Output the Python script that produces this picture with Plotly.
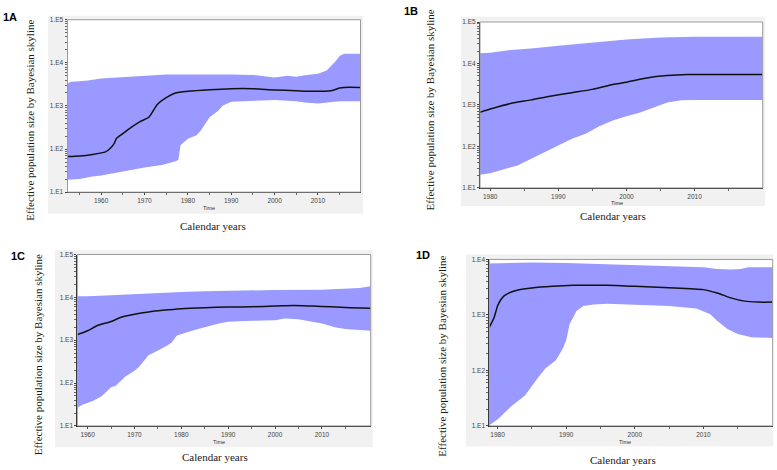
import plotly.graph_objects as go

# ---------------- data ----------------
# Panel 1A
a_med_years = [1952.25, 1955, 1958, 1961, 1962, 1963, 1963.5, 1965, 1967, 1969, 1971, 1973, 1975, 1977, 1980, 1985, 1990, 1995, 2000, 2005, 2008, 2013, 2015, 2016, 2019.8]
a_med = [67, 69, 75, 86, 102, 134, 174, 227, 323, 435, 546, 1096, 1563, 1963, 2183, 2382, 2512, 2512, 2344, 2259, 2183, 2259, 2600, 2692, 2692]
a_up_years = [1952.25, 1953, 1955, 1957, 1960, 1965, 1970, 1975, 1980, 1985, 1990, 1995, 2000, 2003, 2005, 2007, 2010, 2012, 2013, 2014, 2015, 2016, 2019.8]
a_up = [3266, 3631, 3758, 3890, 4325, 4645, 5070, 5346, 5346, 5433, 5346, 5248, 4571, 5012, 4786, 5129, 5623, 6607, 8279, 10715, 14454, 16218, 16218]
a_lo_years = [1952.25, 1955, 1958, 1960, 1962, 1965, 1970, 1974, 1977, 1977.8, 1978.3, 1980, 1982, 1983, 1985, 1987, 1988, 1990, 1992, 2000, 2005, 2007, 2010, 2012, 2015, 2019.8]
a_lo = [19.5, 20.2, 23.2, 24.5, 26.3, 30.2, 37.2, 42.9, 51.2, 56, 123, 174, 208, 269, 546, 776, 1009, 1259, 1312, 1380, 1288, 1202, 1140, 1202, 1288, 1288]
a_xticks = [1960, 1970, 1980, 1990, 2000, 2010]

# Panel 1B
b_med_years = [1978.5, 1980, 1983, 1986, 1989, 1992, 1995, 1998, 2000, 2003, 2006, 2009, 2020]
b_med = [664, 796, 1086, 1327, 1652, 1982, 2377, 3126, 3548, 4498, 5117, 5408, 5408]
b_up_years = [1978.5, 1980, 1983, 1986, 1990, 1995, 2000, 2005, 2010, 2020]
b_up = [17700, 18200, 21230, 22900, 26900, 32280, 38020, 42460, 44060, 44060]
b_lo_years = [1978.5, 1980, 1982, 1984, 1986, 1988, 1990, 1992, 1994, 1996, 1998, 2000, 2002, 2004, 2006, 2008, 2010, 2020]
b_lo = [20.7, 22.7, 28.2, 34.7, 51.6, 71.6, 107, 154, 203, 309, 421, 533, 661, 871, 1148, 1303, 1327, 1327]
b_xticks = [1980, 1990, 2000, 2010]

# Panel 1C
c_med_years = [1957.8, 1960, 1962, 1965, 1967, 1970, 1973, 1976, 1980, 1985, 1990, 1995, 2000, 2004, 2008, 2012, 2016, 2020.4]
c_med = [1349, 1667, 2173, 2735, 3381, 4027, 4560, 4977, 5445, 5741, 5943, 6053, 6266, 6486, 6266, 6053, 5741, 5534]
c_up_years = [1957.8, 1960, 1965, 1970, 1975, 1980, 1985, 1990, 2000, 2010, 2015, 2018, 2020.4]
c_up = [10640, 10640, 11220, 12020, 12910, 13370, 13870, 14350, 14860, 15140, 15960, 16520, 18070]
c_lo_years = [1957.8, 1959, 1961, 1963, 1965, 1966, 1968, 1970, 1971, 1973, 1975, 1977, 1978, 1979, 1980, 1983, 1986, 1988, 1990, 1995, 2000, 2002, 2005, 2008, 2010, 2013, 2015, 2020.4]
c_lo = [26.4, 31.5, 37.6, 49, 80, 86, 141, 194, 239, 444, 578, 753, 899, 1279, 1400, 1758, 2173, 2460, 2685, 2831, 2931, 3206, 3090, 2735, 2460, 1991, 1824, 1667]
c_xticks = [1960, 1970, 1980, 1990, 2000, 2010]

# Panel 1D
d_med_years = [1978.8, 1979.5, 1980, 1980.5, 1981, 1982, 1983, 1985, 1988, 1991, 1996, 2000, 2005, 2010, 2012, 2014, 2016, 2018, 2020.1]
d_med = [596, 897, 1445, 1897, 2234, 2594, 2818, 3055, 3273, 3412, 3412, 3273, 3097, 2858, 2489, 2032, 1774, 1702, 1702]
d_up_years = [1978.8, 1985, 1990, 1997, 2005, 2010, 2012, 2014, 2015.5, 2016.5, 2020.1]
d_up = [8492, 8851, 8610, 8147, 7621, 7211, 6730, 6561, 6730, 7211, 7211]
d_lo_years = [1978.8, 1980, 1982, 1984, 1985, 1986, 1987, 1988.5, 1989.5, 1990, 1990.5, 1991.5, 1992.5, 1994, 1996, 2000, 2005, 2009, 2011, 2012, 2013.5, 2015, 2017, 2020.1]
d_lo = [10.3, 13.1, 22.6, 35.5, 51.3, 77.3, 109, 152, 245, 345, 682, 1178, 1445, 1545, 1589, 1545, 1445, 1312, 1028, 782, 557, 454, 396, 385]
d_xticks = [1980, 1990, 2000, 2010]

y_tickvals = [10, 100, 1000, 10000, 100000]
y_ticktext = ["1.E1", "1.E2", "1.E3", "1.E4", "1.E5"]
panel_labels = ["1A", "1B", "1C", "1D"]
x_title = "Calendar years"
y_title = "Effective population size by Bayesian skyline"
time_label = "Time"

# ---------------- layout geometry (pixels in a 777x470 canvas) ----------------
W, H = 777, 470
def px(x):
    return x / W
def py(y):
    return 1 - y / H

panels = [
    dict(med=(a_med_years, a_med), up=(a_up_years, a_up), lo=(a_lo_years, a_lo), xt_vals=a_xticks,
         plot=(67.5, 16, 360.5, 191), box=(48, 12, 363, 213), xr=[1952.25, 2019.8], yr=[1, 5],
         lab=(10, 13.5), xt=(213, 225), yt=(30, 118.5), tm=(209, 207)),
    dict(med=(b_med_years, b_med), up=(b_up_years, b_up), lo=(b_lo_years, b_lo), xt_vals=b_xticks,
         plot=(480, 18.3, 762.7, 186.7), box=(461, 13, 765, 205), xr=[1978.5, 2020], yr=[1, 5],
         lab=(411, 7), xt=(612.7, 215), yt=(430, 108), tm=(616.7, 202)),
    dict(med=(c_med_years, c_med), up=(c_up_years, c_up), lo=(c_lo_years, c_lo), xt_vals=c_xticks,
         plot=(77.3, 254.3, 370.7, 428.3), box=(55, 250, 372.7, 450), xr=[1957.8, 2020.4], yr=[1, 5],
         lab=(18, 255.5), xt=(215, 460), yt=(38, 356.5), tm=(219, 445)),
    dict(med=(d_med_years, d_med), up=(d_up_years, d_up), lo=(d_lo_years, d_lo), xt_vals=d_xticks,
         plot=(489.3, 259.3, 772.7, 428.3), box=(466, 254.3, 773.3, 449.3), xr=[1978.8, 2020.1], yr=[1, 4],
         lab=(423, 254.5), xt=(623, 463), yt=(442, 358), tm=(625, 445)),
]

FILL = "rgb(153,153,255)"
fig = go.Figure()
shapes = []
annotations = []
minor_y = []
for e in range(1, 5):
    for m in range(2, 10):
        minor_y.append(m * 10 ** e)

for i, p in enumerate(panels):
    k = "" if i == 0 else str(i + 1)
    xa, ya = "x" + k, "y" + k
    ux, uy = p["up"]
    lx, ly = p["lo"]
    fig.add_trace(go.Scatter(x=list(ux) + list(lx)[::-1], y=list(uy) + list(ly)[::-1],
                             fill="toself", fillcolor=FILL, line=dict(width=0),
                             mode="lines", hoverinfo="skip", showlegend=False,
                             xaxis=xa, yaxis=ya))
    mx, my = p["med"]
    fig.add_trace(go.Scatter(x=mx, y=my, mode="lines",
                             line=dict(color="#111111", width=1.5, shape="spline", smoothing=0.6),
                             showlegend=False, xaxis=xa, yaxis=ya))
    x0, y0, x1, y1 = p["plot"]
    common_tick = dict(tickfont=dict(size=6.5, color="#444444", family="Liberation Sans"),
                       showgrid=False, zeroline=False, showline=True, linecolor="#222222",
                       linewidth=1, ticks="outside", ticklen=2, tickcolor="#444444", tickwidth=1)
    minor_x = [v + 5 for v in p["xt_vals"]] + [p["xt_vals"][0] - 5]
    fig.update_layout(**{
        ("xaxis" + k): dict(domain=[px(x0), px(x1)], anchor=ya, range=p["xr"],
                            tickmode="array", tickvals=p["xt_vals"],
                            ticktext=[str(v) for v in p["xt_vals"]],
                            minor=dict(ticks="outside", ticklen=2, tickmode="array", tickvals=minor_x,
                                       tickcolor="#666666"),
                            **common_tick),
        ("yaxis" + k): dict(domain=[py(y1), py(y0)], anchor=xa, type="log", range=p["yr"],
                            tickmode="array", tickvals=y_tickvals, ticktext=y_ticktext,
                            minor=dict(ticks="outside", ticklen=2, tickmode="array", tickvals=minor_y,
                                       tickcolor="#666666"),
                            **common_tick),
    })
    bx0, by0, bx1, by1 = p["box"]
    shapes.append(dict(type="rect", xref="paper", yref="paper", x0=px(bx0), x1=px(bx1),
                       y0=py(by1), y1=py(by0), fillcolor="#f1f1f1", line=dict(width=0), layer="below"))
    shapes.append(dict(type="rect", xref="paper", yref="paper", x0=px(x0), x1=px(x1),
                       y0=py(y1), y1=py(y0), fillcolor="white", line=dict(width=0), layer="below"))
    shapes.append(dict(type="rect", xref=xa + " domain", yref=ya + " domain", x0=0, x1=1, y0=0, y1=1,
                       line=dict(color="#9a9a9a", width=1), layer="above"))
    base = dict(xref="paper", yref="paper", showarrow=False, xanchor="center", yanchor="middle")
    annotations.append(dict(text="<b>" + panel_labels[i] + "</b>", x=px(p["lab"][0]), y=py(p["lab"][1]),
                            font=dict(family="Liberation Sans", size=11, color="black"), **base))
    annotations.append(dict(text=x_title, x=px(p["xt"][0]), y=py(p["xt"][1]),
                            font=dict(family="Liberation Serif", size=11, color="#1a1a1a"), **base))
    annotations.append(dict(text=y_title, x=px(p["yt"][0]), y=py(p["yt"][1]), textangle=-90,
                            font=dict(family="Liberation Serif", size=11, color="#1a1a1a"), **base))
    annotations.append(dict(text=time_label, x=px(p["tm"][0]), y=py(p["tm"][1]),
                            font=dict(family="Liberation Sans", size=5.5, color="#333333"), **base))

fig.update_layout(width=W, height=H, margin=dict(l=0, r=0, t=0, b=0),
                  paper_bgcolor="white", plot_bgcolor="rgba(0,0,0,0)",
                  shapes=shapes, annotations=annotations, showlegend=False)
fig.write_html("out.html")
